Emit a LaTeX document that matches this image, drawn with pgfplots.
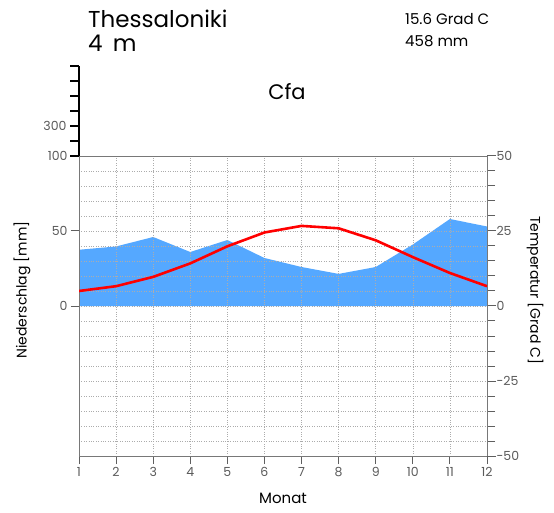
\documentclass[border=0pt]{standalone}
\usepackage{pgfplots}
\pgfplotsset{compat=1.18}
\usepackage{fontspec}
\setmainfont{Poppins}
\definecolor{precipblue}{RGB}{85,168,255}
\definecolor{framegray}{RGB}{120,120,120}
\definecolor{tickgray}{RGB}{95,95,95}
\definecolor{labgray}{RGB}{90,90,90}
\pgfplotsset{
  base/.style={at={(79pt,56pt)}, anchor=south west, scale only axis,
    width=408pt, height=300pt, xmin=1, xmax=12,
    axis line style={draw=framegray, line width=0.8pt},
    ticklabel style={font=\fontsize{12.5}{13}\selectfont, text=labgray},
    /pgf/number format/assume math mode=true}
}
\begin{document}
\begin{tikzpicture}[x=1pt,y=1pt]
\useasboundingbox (0,0) rectangle (554,512);
% precipitation: fill and grid
\begin{axis}[base, ymin=-100, ymax=100, axis on top,
  xtick={1,...,12}, ytick={-90,-80,...,90},
  xticklabels={}, yticklabels={},
  major tick length=0pt,
  xmajorgrids, ymajorgrids,
  grid style={dotted, gray!65, line width=0.6pt},
]
\addplot[fill=precipblue, draw=none] coordinates {
 (1,0) (1,37.5) (2,39.7) (3,46) (4,36) (5,44) (6,32) (7,26) (8,21.4) (9,26) (10,41) (11,58) (12,53) (12,0)} -- cycle;
\end{axis}
% precipitation: ticks and labels
\begin{axis}[base, ymin=-100, ymax=100,
  axis x line*=bottom, axis y line*=left,
  xtick={1,...,12},
  ytick={0,50,100},
  tick align=outside, major tick length=8pt,
  every tick/.style={draw=tickgray, line width=1pt},
  xlabel={Monat},
  xlabel style={font=\fontsize{15}{16}\selectfont, at={(axis description cs:0.5,-0.14)}, anchor=center},
  ylabel={Niederschlag [mm]},
  ylabel style={font=\fontsize{14}{15}\selectfont, at={(axis description cs:-0.14,0.553)}, anchor=center},
]
\end{axis}
% temperature axis
\begin{axis}[base, ymin=-50, ymax=50,
  axis x line=none, axis y line*=right,
  ytick={-50,-25,...,50}, minor ytick={-45,-40,...,45},
  tick align=outside, major tick length=9pt, minor tick length=8pt,
  every tick/.style={draw=tickgray, line width=1pt},
  yticklabel style={xshift=-3pt},
  ylabel={Temperatur [Grad C]},
  ylabel style={font=\fontsize{14}{15}\selectfont, at={(axis description cs:1.1176,0.553)}, rotate=180, anchor=center},
]
\addplot[red, line width=2.6pt] coordinates {
 (1,5.0) (2,6.6) (3,9.7) (4,14.2) (5,19.9) (6,24.5) (7,26.7) (8,25.9) (9,21.9) (10,16.3) (11,11.0) (12,6.6)};
\end{axis}
% upper extension of precipitation axis
\begin{axis}[
  at={(79pt,356pt)}, anchor=south west, scale only axis,
  width=10pt, height=90pt,
  xmin=0, xmax=1, ymin=100, ymax=700,
  axis x line=none, axis y line*=left,
  axis line style={draw=black, line width=1.3pt},
  ytick={100,200,...,700}, yticklabels={,,300,,,,},
  tick align=outside, major tick length=9pt,
  every tick/.style={draw=black, line width=1.3pt},
  ticklabel style={font=\fontsize{12.5}{13}\selectfont, text=labgray},
  /pgf/number format/assume math mode=true,
]
\end{axis}
\node[anchor=base west, inner sep=0pt, font=\fontsize{23}{26}\selectfont] at (88,484) {Thessaloniki};
\node[anchor=base west, inner sep=0pt, font=\fontsize{23}{26}\selectfont] at (88,460) {4\hspace{0.45em}m};
\node[anchor=base west, inner sep=0pt, font=\fontsize{15}{17}\selectfont] at (405,487) {15.6 Grad C};
\node[anchor=base west, inner sep=0pt, font=\fontsize{15}{17}\selectfont] at (405,465) {458 mm};
\node[anchor=base, inner sep=0pt, font=\fontsize{21}{24}\selectfont] at (287,412) {Cfa};
\end{tikzpicture}
\end{document}
